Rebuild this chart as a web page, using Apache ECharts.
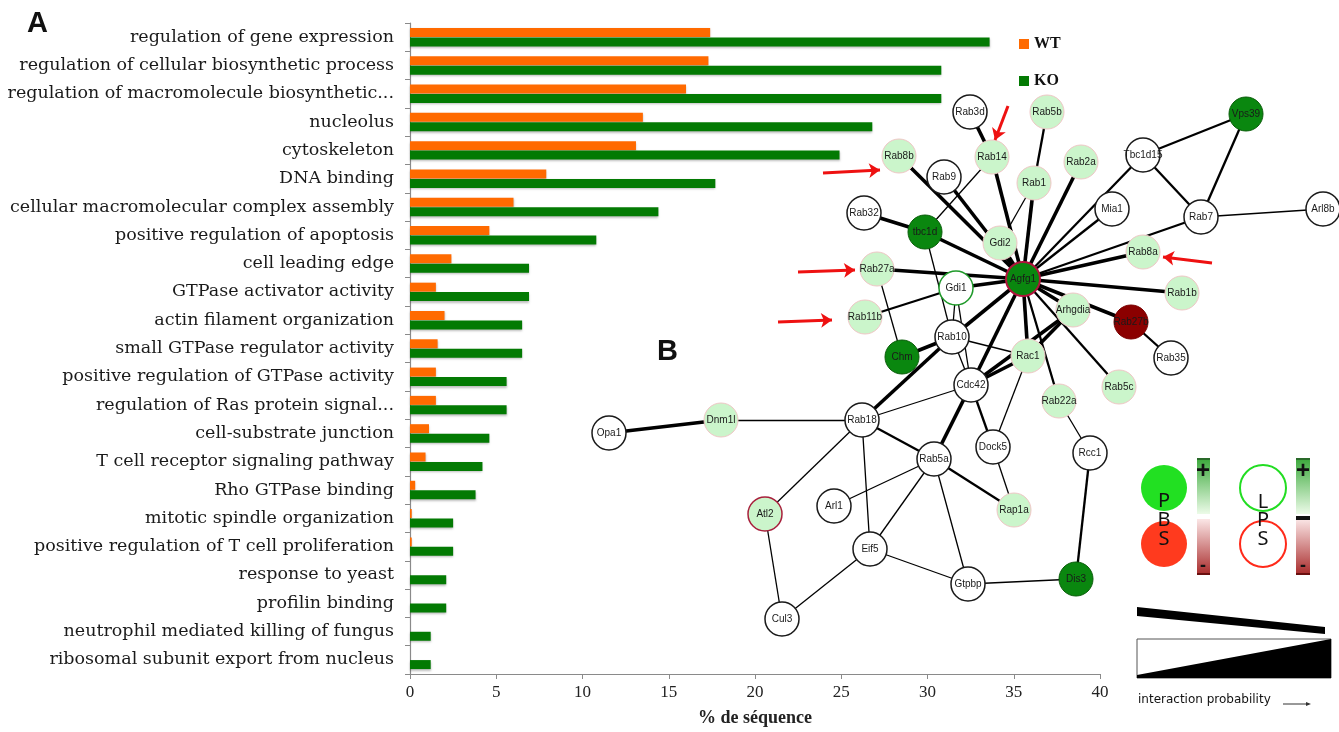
<!DOCTYPE html>
<html><head><meta charset="utf-8">
<script src="https://cdn.jsdelivr.net/npm/echarts@6/dist/echarts.min.js"></script>
<style>html,body{margin:0;padding:0;background:#fff}#c{width:1339px;height:732px}</style>
</head><body><div id="c"></div>
<script>
const categories = [
 "regulation of gene expression","regulation of cellular biosynthetic process","regulation of macromolecule biosynthetic...",
 "nucleolus","cytoskeleton","DNA binding","cellular macromolecular complex assembly","positive regulation of apoptosis",
 "cell leading edge","GTPase activator activity","actin filament organization","small GTPase regulator activity",
 "positive regulation of GTPase activity","regulation of Ras protein signal...","cell-substrate junction",
 "T cell receptor signaling pathway","Rho GTPase binding","mitotic spindle organization",
 "positive regulation of T cell proliferation","response to yeast","profilin binding",
 "neutrophil mediated killing of fungus","ribosomal subunit export from nucleus"];
const wtValues = [17.4,17.3,16.0,13.5,13.1,7.9,6.0,4.6,2.4,1.5,2.0,1.6,1.5,1.5,1.1,0.9,0.3,0.1,0.1,0,0,0,0];
const koValues = [33.6,30.8,30.8,26.8,24.9,17.7,14.4,10.8,6.9,6.9,6.5,6.5,5.6,5.6,4.6,4.2,3.8,2.5,2.5,2.1,2.1,1.2,1.2];
const xTicks = [0,5,10,15,20,25,30,35,40];

// network nodes: name, x, y (figure coordinates), type
const nodes = [
 ["Rab3d",970,112,"w"],["Rab5b",1047,112,"l"],["Vps39",1246,114,"d"],["Rab14",992,157,"l"],
 ["Rab8b",899,156,"l"],["Rab9",944,177,"w"],["Rab1",1034,183,"l"],["Rab2a",1081,162,"l"],
 ["Tbc1d15",1143,155,"w"],["Mia1",1112,209,"w"],["Rab7",1201,217,"w"],["Arl8b",1323,209,"w"],
 ["Rab32",864,213,"w"],["tbc1d",925,232,"d"],["Gdi2",1000,243,"l"],["Rab8a",1143,252,"l"],
 ["Rab27a",877,269,"l"],["Agfg1",1023,279,"hub"],["Gdi1",956,288,"wg"],["Rab1b",1182,293,"l"],
 ["Rab11b",865,317,"l"],["Arhgdia",1073,310,"l"],["Rab27b",1131,322,"r"],["Rab10",952,337,"w"],
 ["Chm",902,357,"d"],["Rac1",1028,356,"l"],["Rab35",1171,358,"w"],["Cdc42",971,385,"w"],
 ["Rab5c",1119,387,"l"],["Rab22a",1059,401,"l"],["Rab18",862,420,"w"],["Dnm1l",721,420,"l"],
 ["Opa1",609,433,"w"],["Dock5",993,447,"w"],["Rcc1",1090,453,"w"],["Rab5a",934,459,"w"],
 ["Arl1",834,506,"w"],["Atl2",765,514,"la"],["Rap1a",1014,510,"l"],["Eif5",870,549,"w"],
 ["Gtpbp",968,584,"w"],["Dis3",1076,579,"d"],["Cul3",782,619,"w"]];
// edges: source, target, weight (1 thin .. 3 thick)
const edges = [
 ["Agfg1","Rab8b",3],["Agfg1","Rab9",3],["Agfg1","Rab14",3],["Agfg1","Rab1",3],["Agfg1","Rab2a",3],
 ["Agfg1","Tbc1d15",2],["Agfg1","Mia1",2],["Agfg1","Rab7",2],["Agfg1","Rab8a",3],["Agfg1","Rab1b",3],
 ["Agfg1","Arhgdia",3],["Agfg1","Rab27b",3],["Agfg1","Rab5c",2],["Agfg1","Rab22a",2],["Agfg1","Rac1",3],
 ["Agfg1","Cdc42",3],["Agfg1","Rab10",3],["Agfg1","Gdi1",3],["Agfg1","Gdi2",3],["Agfg1","tbc1d",3],
 ["Agfg1","Rab27a",3],["Rab3d","Rab14",3],["Rab5b","Rab1",2],["Rab14","tbc1d",1],["Rab1","Gdi2",1],
 ["Rab32","tbc1d",3],["tbc1d","Rab10",1],["Rab27a","Chm",1],["Rab11b","Gdi1",2],["Gdi1","Rab10",1],
 ["Chm","Rab10",3],["Rab10","Rab18",3],["Tbc1d15","Vps39",2],["Tbc1d15","Rab7",2],["Vps39","Rab7",2],
 ["Rab7","Arl8b",1],["Rab27b","Rab35",2],["Arhgdia","Rac1",3],["Arhgdia","Cdc42",3],["Rac1","Cdc42",3],
 ["Rac1","Dock5",1],["Cdc42","Dock5",2],["Cdc42","Rab5a",3],["Cdc42","Rab18",1],["Cdc42","Rab10",1],
 ["Cdc42","Gdi1",1],["Dock5","Rap1a",1],["Rab22a","Rcc1",1],["Rcc1","Dis3",2],["Dis3","Gtpbp",1],
 ["Rab18","Dnm1l",1],["Dnm1l","Opa1",3],["Rab18","Rab5a",2],["Rab18","Atl2",1],["Rab18","Eif5",1],
 ["Rab5a","Arl1",1],["Rab5a","Eif5",1],["Rab5a","Gtpbp",1],["Rab5a","Rap1a",2],["Eif5","Gtpbp",1],
 ["Eif5","Cul3",1],["Atl2","Cul3",1],["Rab10","Rac1",1]];
// red annotation arrows: from -> to
const arrows = [
 [[1008,106],[995,140]],[[823,173],[880,170]],[[798,272],[855,270]],[[778,322],[832,320]],[[1212,263],[1163,257]]];

const nodeStyles = {
 w:{color:'#ffffff',borderColor:'#1a1a1a',borderWidth:1.5},
 wg:{color:'#ffffff',borderColor:'#1f9a2a',borderWidth:1.5},
 l:{color:'#cbf5cb',borderColor:'#f0c6c6',borderWidth:1},
 la:{color:'#cbf5cb',borderColor:'#a8203c',borderWidth:1.5},
 d:{color:'#0a870f',borderColor:'#0a5d0a',borderWidth:1},
 hub:{color:'#0a870f',borderColor:'#b0143c',borderWidth:2},
 r:{color:'#8b0000',borderColor:'#7a0000',borderWidth:1}
};
const widthMap = {1:1.3,2:2.3,3:3.6};

const chart = echarts.init(document.getElementById('c'), null, {renderer:'canvas'});
const serif = '"DejaVu Serif", "Liberation Serif", serif';
const serif2 = '"Liberation Serif", "Times New Roman", serif';
const sans = '"Liberation Sans", Arial, sans-serif';
const big = '20px "Noto Sans", sans-serif';

const option = {
 animation:false,
 backgroundColor:'#ffffff',
 grid:[
  {left:410, right:239, top:23, bottom:54, containLabel:false},
  {left:0, right:0, top:0, bottom:0}
 ],
 legend:{
  data:['WT','KO'], orient:'vertical', left:1014, top:31, itemWidth:10, itemHeight:10, itemGap:21,
  icon:'rect',
  textStyle:{fontFamily:serif2, fontWeight:'bold', fontSize:16, color:'#111', lineHeight:14}
 },
 xAxis:[
  {type:'value', gridIndex:0, min:0, max:40, interval:5,
   axisLine:{show:true, lineStyle:{color:'#8a8a8a', width:1.2}},
   axisTick:{show:true, length:5, lineStyle:{color:'#8a8a8a'}},
   splitLine:{show:false},
   axisLabel:{fontFamily:serif2, fontSize:17, color:'#222', margin:10},
   name:'% de séquence', nameLocation:'middle', nameGap:35,
   nameTextStyle:{fontFamily:serif2, fontWeight:'bold', fontSize:18, color:'#222'}},
  {type:'value', gridIndex:1, min:0, max:1339, show:false}
 ],
 yAxis:[
  {type:'category', gridIndex:0, data:categories, inverse:true,
   axisLine:{show:true, lineStyle:{color:'#8a8a8a', width:1.2}},
   axisTick:{show:true, length:5, lineStyle:{color:'#8a8a8a'}},
   axisLabel:{fontFamily:serif, fontSize:17.5, color:'#1a1a1a', margin:16}},
  {type:'value', gridIndex:1, min:0, max:732, inverse:true, show:false}
 ],
 graphic:[
  {type:'text', left:27, top:9, style:{text:'A', font:'bold 29px "Liberation Sans", Arial', fill:'#111'}},
  {type:'text', left:657, top:337, style:{text:'B', font:'bold 29px "Liberation Sans", Arial', fill:'#111'}},
  // legend panel
  {type:'circle', shape:{cx:1164, cy:488, r:23}, style:{fill:'#22e022'}},
  {type:'circle', shape:{cx:1164, cy:544, r:23}, style:{fill:'#ff3a1e'}},
  {type:'text', x:1164, y:501, style:{text:'P', font:big, fill:'#111', textAlign:'center', textVerticalAlign:'middle'}},
  {type:'text', x:1164, y:520, style:{text:'B', font:big, fill:'#111', textAlign:'center', textVerticalAlign:'middle'}},
  {type:'text', x:1164, y:539, style:{text:'S', font:big, fill:'#111', textAlign:'center', textVerticalAlign:'middle'}},
  {type:'circle', shape:{cx:1263, cy:488, r:23}, style:{fill:'#fff', stroke:'#22dd22', lineWidth:2}},
  {type:'circle', shape:{cx:1263, cy:544, r:23}, style:{fill:'#fff', stroke:'#ff2a1a', lineWidth:2}},
  {type:'text', x:1263, y:502, style:{text:'L', font:big, fill:'#111', textAlign:'center', textVerticalAlign:'middle'}},
  {type:'text', x:1263, y:520, style:{text:'P', font:big, fill:'#111', textAlign:'center', textVerticalAlign:'middle'}},
  {type:'text', x:1263, y:539, style:{text:'S', font:big, fill:'#111', textAlign:'center', textVerticalAlign:'middle'}},
  {type:'rect', shape:{x:1197, y:458, width:13, height:56}, style:{fill:new echarts.graphic.LinearGradient(0,0,0,1,[{offset:0,color:'#3aa83a'},{offset:1,color:'#ecfbe8'}])}},
  {type:'rect', shape:{x:1197, y:519, width:13, height:56}, style:{fill:new echarts.graphic.LinearGradient(0,0,0,1,[{offset:0,color:'#fbe6e6'},{offset:1,color:'#a82a2a'}])}},
  {type:'rect', shape:{x:1197, y:458, width:13, height:2}, style:{fill:'#2a6a2a'}},
  {type:'rect', shape:{x:1197, y:573, width:13, height:2}, style:{fill:'#6a1010'}},
  {type:'text', x:1203, y:471, style:{text:'+', font:'bold 24px "Liberation Sans", Arial', fill:'#111', textAlign:'center', textVerticalAlign:'middle'}},
  {type:'text', x:1203, y:566, style:{text:'-', font:'bold 18px "Liberation Sans", Arial', fill:'#111', textAlign:'center', textVerticalAlign:'middle'}},
  {type:'rect', shape:{x:1296, y:458, width:14, height:56}, style:{fill:new echarts.graphic.LinearGradient(0,0,0,1,[{offset:0,color:'#3aa83a'},{offset:1,color:'#ecfbe8'}])}},
  {type:'rect', shape:{x:1296, y:519, width:14, height:56}, style:{fill:new echarts.graphic.LinearGradient(0,0,0,1,[{offset:0,color:'#fbe6e6'},{offset:1,color:'#a82a2a'}])}},
  {type:'rect', shape:{x:1296, y:458, width:14, height:2}, style:{fill:'#2a6a2a'}},
  {type:'rect', shape:{x:1296, y:516, width:14, height:4}, style:{fill:'#111'}},
  {type:'rect', shape:{x:1296, y:573, width:14, height:2}, style:{fill:'#6a1010'}},
  {type:'text', x:1303, y:471, style:{text:'+', font:'bold 24px "Liberation Sans", Arial', fill:'#111', textAlign:'center', textVerticalAlign:'middle'}},
  {type:'text', x:1303, y:566, style:{text:'-', font:'bold 18px "Liberation Sans", Arial', fill:'#111', textAlign:'center', textVerticalAlign:'middle'}},
  {type:'polygon', shape:{points:[[1137,607],[1325,627],[1325,634],[1137,616]]}, style:{fill:'#000'}},
  {type:'rect', shape:{x:1137, y:639, width:194, height:39}, style:{fill:'#fff', stroke:'#555', lineWidth:1}},
  {type:'polygon', shape:{points:[[1137,675],[1331,639],[1331,678],[1137,678]]}, style:{fill:'#000'}},
  {type:'text', x:1138, y:700, style:{text:'interaction probability', font:'12px "DejaVu Sans", sans-serif', fill:'#111', textVerticalAlign:'middle'}},
  {type:'line', shape:{x1:1283, y1:704, x2:1306, y2:704}, style:{stroke:'#333', lineWidth:1}},
  {type:'polygon', shape:{points:[[1306,702],[1311,704],[1306,706]]}, style:{fill:'#333'}}
 ],
 series:[
  {name:'WT', type:'bar', xAxisIndex:0, yAxisIndex:0, data:wtValues, barWidth:9, barGap:'0%',
   itemStyle:{color:'#ff6a00', shadowColor:'rgba(0,0,0,0.25)', shadowBlur:2, shadowOffsetY:1.5}},
  {name:'KO', type:'bar', xAxisIndex:0, yAxisIndex:0, data:koValues, barWidth:9, barGap:'5%',
   itemStyle:{color:'#037a03', shadowColor:'rgba(0,0,0,0.25)', shadowBlur:2, shadowOffsetY:1.5}},
  {type:'graph', coordinateSystem:'cartesian2d', xAxisIndex:1, yAxisIndex:1, z:5,
   symbolSize:34, silent:true,
   data:nodes.map(n=>({name:n[0], value:[n[1],n[2]], itemStyle:nodeStyles[n[3]]})),
   links:edges.map(e=>({source:e[0], target:e[1], lineStyle:{width:widthMap[e[2]]}})),
   lineStyle:{color:'#000', opacity:1, curveness:0},
   label:{show:true, position:'inside', fontFamily:sans, fontSize:10, color:'#1a1a1a'},
   edgeSymbol:['none','none']},
  {type:'lines', coordinateSystem:'cartesian2d', xAxisIndex:1, yAxisIndex:1, z:6, silent:true,
   symbol:['none','arrow'], symbolSize:11,
   lineStyle:{color:'#ee1111', width:3, opacity:1},
   data:arrows.map(a=>({coords:a}))}
 ]
};
chart.setOption(option);
</script></body></html>
